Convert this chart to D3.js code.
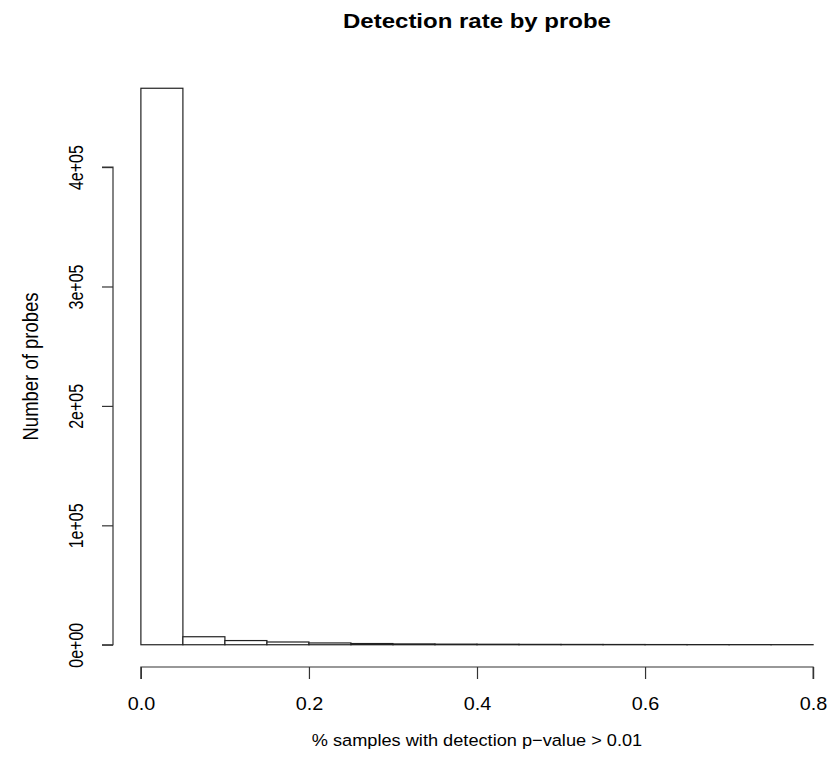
<!DOCTYPE html>
<html>
<head>
<meta charset="utf-8">
<script src="https://cdn.jsdelivr.net/npm/d3@7"></script>
<style>
  body { margin: 0; background: #fff; }
  text { font-family: "Liberation Sans", Arial, sans-serif; fill: #000; }
</style>
</head>
<body>
<div id="chart"></div>
<script>
// Histogram bins (start of each 0.05 wide bin) and counts
const binStarts = [0, 0.05, 0.1, 0.15, 0.2, 0.25, 0.3, 0.35, 0.4, 0.45, 0.5, 0.55, 0.6, 0.65, 0.7, 0.75];
const binWidth = 0.05;
const counts = [466000, 6700, 3500, 2300, 1500, 1000, 700, 500, 400, 300, 250, 200, 150, 120, 100, 80];
const xTicks = [0, 0.2, 0.4, 0.6, 0.8];
const yTicks = [0, 1e5, 2e5, 3e5, 4e5];
const yTickLabels = ["0e+00", "1e+05", "2e+05", "3e+05", "4e+05"];

const W = 836, H = 761;
// plot region (R style, axes expanded by 4%)
const pl = 114, pr = 840, pt = 66, pb = 667;

const yMax = d3.max(counts);
const xMin = 0, xMax = 0.8;
const xPad = (xMax - xMin) * 0.04;

const x = d3.scaleLinear().domain([xMin - xPad, xMax + xPad]).range([pl, pr]);
const y = d3.scaleLinear().domain([-yMax * 0.04, yMax * 1.04]).range([pb, pt]);

const svg = d3.select("#chart").append("svg")
    .attr("width", W)
    .attr("height", H);

// Bars
svg.append("g")
  .selectAll("rect")
  .data(binStarts)
  .join("rect")
    .attr("x", d => x(d))
    .attr("y", (d, i) => y(counts[i]))
    .attr("width", d => x(d + binWidth) - x(d))
    .attr("height", (d, i) => y(0) - y(counts[i]))
    .attr("fill", "#fff")
    .attr("stroke", "#222")
    .attr("stroke-width", 1.2);

// X axis
const xAxis = svg.append("g")
    .attr("transform", `translate(0, ${pb})`)
    .call(d3.axisBottom(x).tickValues(xTicks).tickFormat(d3.format(".1f")).tickSize(12));
xAxis.select(".domain").attr("d", `M${x(xMin)},12V0H${x(xMax)}V12`).attr("stroke", "#333").attr("stroke-width", 1.2);
xAxis.selectAll(".tick line").attr("stroke", "#333").attr("stroke-width", 1.2);
xAxis.selectAll("text")
    .attr("font-size", 18)
    .attr("font-family", "Liberation Sans, Arial, sans-serif")
    .attr("y", 0).attr("dy", null)
    .attr("transform", "translate(0, 43) scale(1.1, 1)");

// Y axis
const yAxis = svg.append("g")
    .attr("transform", `translate(${pl - 1}, 0)`)
    .call(d3.axisLeft(y).tickValues(yTicks).tickFormat((d, i) => yTickLabels[i]).tickSize(11));
yAxis.select(".domain").attr("d", `M-11,${y(0)}H0V${y(4e5)}H-11`).attr("stroke", "#333").attr("stroke-width", 1.2);
yAxis.selectAll(".tick line").attr("stroke", "#333").attr("stroke-width", 1.2);
yAxis.selectAll("text")
    .attr("font-size", 16)
    .attr("font-family", "Liberation Sans, Arial, sans-serif")
    .attr("text-anchor", "middle")
    .attr("x", 0).attr("y", 0).attr("dy", null)
    .attr("transform", "translate(-30,0) scale(1.3, 1) rotate(-90)");

// Title
svg.append("text")
    .attr("transform", `translate(${(pl + pr) / 2}, 28) scale(1.2, 1)`)
    .attr("text-anchor", "middle")
    .attr("font-size", 20)
    .attr("font-weight", "bold")
    .text("Detection rate by probe");

// X label
svg.append("text")
    .attr("transform", `translate(${(pl + pr) / 2}, 746) scale(1.07, 1)`)
    .attr("text-anchor", "middle")
    .attr("font-size", 17)
    .text("% samples with detection p\u2212value > 0.01");

// Y label
svg.append("text")
    .attr("transform", `translate(38, ${(pt + pb) / 2}) scale(1.2, 1) rotate(-90)`)
    .attr("text-anchor", "middle")
    .attr("font-size", 18.5)
    .text("Number of probes");
</script>
</body>
</html>
